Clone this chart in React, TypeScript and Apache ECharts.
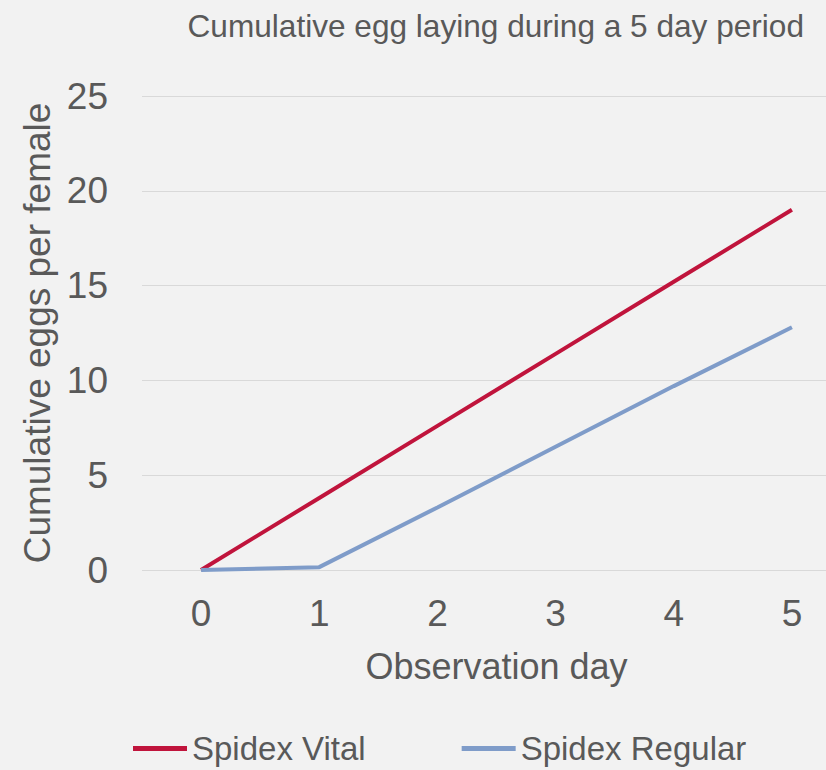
import React, { useEffect, useRef } from "react";
import * as echarts from "echarts";

const titleText = "Cumulative egg laying during a 5 day period";
const xAxisName = "Observation day";
const yAxisName = "Cumulative eggs per female";
const days = ["0", "1", "2", "3", "4", "5"];
const vitalName = "Spidex Vital";
const regularName = "Spidex Regular";
const vitalValues = [0, 3.8, 7.6, 11.4, 15.2, 19.0];
const regularValues = [0, 0.15, 3.3, 6.5, 9.7, 12.8];
const yMin = 0;
const yMax = 25;
const yStep = 5;

const FONT = "'Liberation Sans', Arial, sans-serif";
const TEXT = "#595959";
const RED = "#c0143c";
const BLUE = "#7f9cc9";

export default function App() {
  const ref = useRef<HTMLDivElement>(null);
  useEffect(() => {
    document.body.style.margin = "0";
    document.body.style.background = "#f2f2f2";
    if (!ref.current) return;
    const chart = echarts.init(ref.current, undefined, { renderer: "svg" });
    chart.setOption({
      animation: false,
      backgroundColor: "#f2f2f2",
      textStyle: { fontFamily: FONT },
      title: {
        text: titleText,
        right: 42,
        top: 5,
        textStyle: { fontFamily: FONT, fontSize: 31.6, fontWeight: "normal", color: TEXT },
      },
      legend: {
        left: 128,
        top: 727,
        icon: "rect",
        itemWidth: 54,
        itemHeight: 5,
        itemGap: 96,
        textStyle: { fontFamily: FONT, fontSize: 33, color: TEXT },
        data: [vitalName, regularName],
      },
      grid: { left: 142, top: 96, right: 0, height: 474, containLabel: false },
      xAxis: {
        type: "category",
        data: days,
        boundaryGap: true,
        axisLine: { show: false },
        axisTick: { show: false },
        axisLabel: { margin: 25, fontSize: 37, color: TEXT, fontFamily: FONT },
        name: xAxisName,
        nameLocation: "middle",
        nameGap: 78,
        nameTextStyle: { fontSize: 36, color: TEXT, fontFamily: FONT },
      },
      yAxis: {
        type: "value",
        min: yMin,
        max: yMax,
        interval: yStep,
        axisLine: { show: false },
        axisTick: { show: false },
        splitLine: { lineStyle: { color: "#d9d9d9", width: 1 } },
        axisLabel: { margin: 34, fontSize: 37, color: TEXT, fontFamily: FONT },
        name: yAxisName,
        nameLocation: "middle",
        nameGap: 86,
        nameTextStyle: { fontSize: 37, color: TEXT, fontFamily: FONT },
      },
      series: [
        {
          name: vitalName,
          type: "line",
          data: vitalValues,
          showSymbol: false,
          symbol: "none",
          itemStyle: { color: RED },
          lineStyle: { color: RED, width: 4 },
        },
        {
          name: regularName,
          type: "line",
          data: regularValues,
          showSymbol: false,
          symbol: "none",
          itemStyle: { color: BLUE },
          lineStyle: { color: BLUE, width: 4 },
        },
      ],
    });
    return () => chart.dispose();
  }, []);
  return (
    <div style={{ width: 826, height: 770, overflow: "hidden", position: "relative" }}>
      <div ref={ref} style={{ width: 851, height: 770 }} />
    </div>
  );
}
